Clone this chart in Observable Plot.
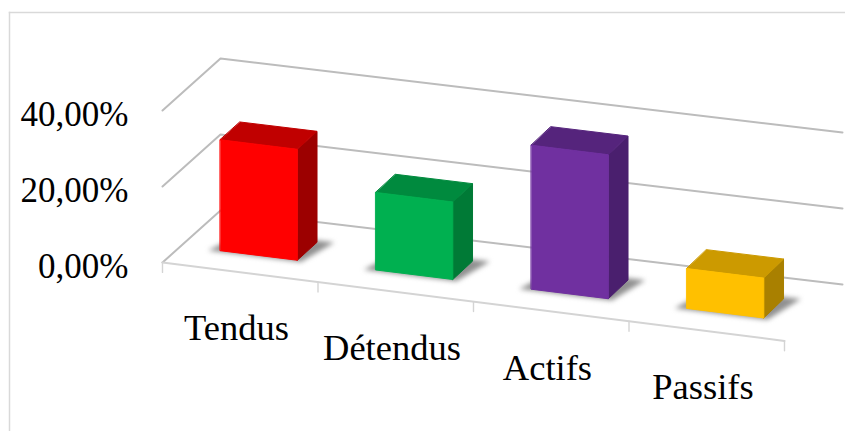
<!DOCTYPE html>
<html>
<head>
<meta charset="utf-8">
<script src="https://cdn.jsdelivr.net/npm/d3@7"></script>
<script src="https://cdn.jsdelivr.net/npm/@observablehq/plot@0.6"></script>
<style>
html,body{margin:0;padding:0;background:#fff}
svg{display:block}
</style>
</head>
<body>
<div id="chart"></div>
<script>
const categories = ["Tendus", "Détendus", "Actifs", "Passifs"];
const values = [29.2, 20.4, 37.9, 10.5];
const frontColors = ["#ff0000", "#00b050", "#7030a0", "#ffc000"];
const topColors = ["#c00000", "#008a3e", "#55247c", "#cc9a00"];
const sideColors = ["#9c0000", "#007a36", "#4a1f6e", "#a98000"];
const gridValues = [0, 20, 40];
const gridLabels = ["0,00%", "20,00%", "40,00%"];

// Oblique projection of (category position, depth 0-1, value) into the two scale domains
const P = (u, v, w) => ({
  x: u + 0.373 * v,
  y: w + (-(19.6 - 1.1 * v) * u + 52 * v) / 3.8
});

const halfWidth = 0.2475, v0 = 0.32, v1 = 0.66;
const serif = "'Liberation Serif','Times New Roman',serif";
const grid = {stroke: "#bcbcbc", strokeWidth: 2, imageFilter: "blur(0.6px)"};
const soft = {stroke: "#d4d4d4", strokeWidth: 2, imageFilter: "blur(0.6px)"};
const xy = {x: "x", y: "y"};

const marks = [
  Plot.frame({anchor: "top", stroke: "#d9d9d9", strokeWidth: 1.5}),
  Plot.frame({anchor: "left", stroke: "#d9d9d9", strokeWidth: 1.5})
];

// walls
gridValues.forEach(w => {
  marks.push(Plot.line([P(0, 0, w), P(0, 1, w), P(4, 1, w)], {...xy, ...grid}));
});
// floor front edge and ticks
marks.push(Plot.line([P(0, 0, 0), P(4, 0, 0)], {...xy, ...soft}));
d3.range(5).forEach(u => {
  marks.push(Plot.line([P(u, 0, 0), P(u, 0, -2.6)], {...xy, ...soft, strokeWidth: 1.4}));
});

// bars
categories.forEach((c, i) => {
  const a = i + 0.5 - halfWidth, b = i + 0.5 + halfWidth, h = values[i];
  marks.push(Plot.line(
    [P(a - 0.07, v0 - 0.02, 0), P(b + 0.03, v0 - 0.02, 0), P(b + 0.1, v1 + 0.03, 0), P(a + 0.02, v1 + 0.03, 0)],
    {...xy, curve: "linear-closed", fill: "#909090", stroke: "none", imageFilter: "blur(2.5px)"}
  ));
  const face = (pts, col) => marks.push(Plot.line(pts, {
    ...xy, curve: "linear-closed", fill: col, stroke: col, strokeWidth: 1, strokeLinejoin: "round", imageFilter: "blur(0.6px)"
  }));
  face([P(b, v0, 0), P(b, v1, 0), P(b, v1, h), P(b, v0, h)], sideColors[i]);
  face([P(a, v0, h), P(b, v0, h), P(b, v1, h), P(a, v1, h)], topColors[i]);
  face([P(a, v0, 0), P(b, v0, 0), P(b, v0, h), P(a, v0, h)], frontColors[i]);
});

// value labels
marks.push(Plot.text(gridValues.map((w, i) => ({...P(0, 0, w), label: gridLabels[i]})), {
  ...xy, text: "label", textAnchor: "end", dx: -34, dy: 4,
  fontFamily: serif, fontSize: 35, fill: "#000"
}));
// category labels
marks.push(Plot.text(categories.map((c, i) => ({...P(i + 0.5, -0.1, 0), label: c})), {
  ...xy, text: "label", textAnchor: "middle", dx: 2, dy: 51,
  fontFamily: serif, fontSize: 36.5, fill: "#000"
}));

const chart = Plot.plot({
  width: 845,
  height: 431,
  marginTop: 12,
  marginLeft: 9,
  marginRight: 0,
  marginBottom: 0,
  style: {background: "#fff"},
  x: {type: "linear", domain: [0, 4], range: [162, 784], axis: null},
  y: {type: "linear", domain: [0, 40], range: [262, 110], axis: null},
  marks
});
document.getElementById("chart").appendChild(chart);
</script>
</body>
</html>
